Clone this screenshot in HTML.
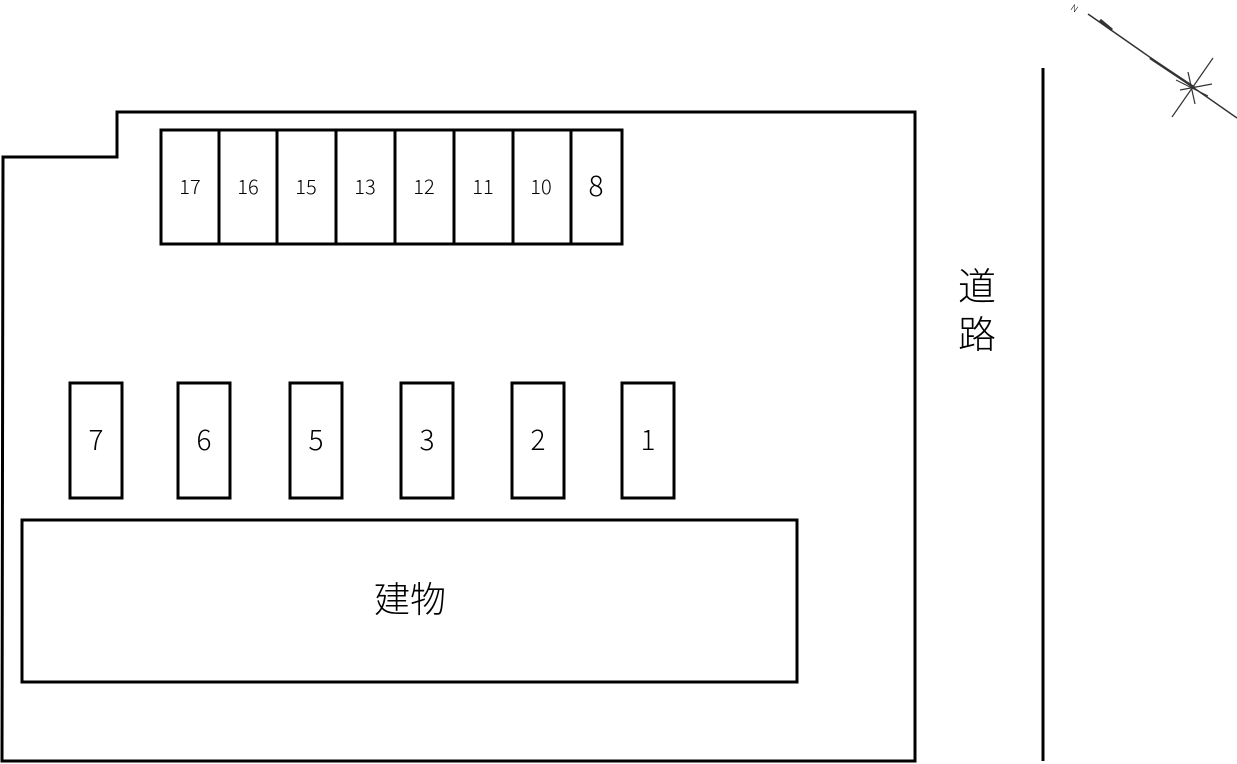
<!DOCTYPE html>
<html><head><meta charset="utf-8"><style>
html,body{margin:0;padding:0;background:#fff;}
svg{display:block}
text{fill:#000;}
.j{font-family:"Noto Sans CJK JP",sans-serif;font-weight:300;}
</style></head><body>
<svg width="1237" height="764" viewBox="0 0 1237 764" xmlns="http://www.w3.org/2000/svg">
<g fill="none" stroke="#000" stroke-width="3">
<path d="M2,761 L3,157 L117,157 L117,112 L915,112 L915,761 Z"/>
<rect x="161" y="130" width="461" height="114"/>
<line x1="219" y1="130" x2="219" y2="244"/>
<line x1="277" y1="130" x2="277" y2="244"/>
<line x1="336" y1="130" x2="336" y2="244"/>
<line x1="395" y1="130" x2="395" y2="244"/>
<line x1="454" y1="130" x2="454" y2="244"/>
<line x1="513" y1="130" x2="513" y2="244"/>
<line x1="571" y1="130" x2="571" y2="244"/>
<rect x="70" y="383" width="52" height="115"/>
<rect x="178" y="383" width="52" height="115"/>
<rect x="290" y="383" width="52" height="115"/>
<rect x="401" y="383" width="52" height="115"/>
<rect x="512" y="383" width="52" height="115"/>
<rect x="622" y="383" width="52" height="115"/>
<rect x="22" y="520" width="775" height="162"/>
<line x1="1043" y1="68" x2="1043" y2="761"/>
</g>
<g font-size="20" text-anchor="middle" class="j">
<text x="190" y="194">17</text><text x="248" y="194">16</text><text x="306" y="194">15</text>
<text x="365" y="194">13</text><text x="424" y="194">12</text><text x="483" y="194">11</text>
<text x="541" y="194">10</text><text x="596" y="196" font-size="28">8</text>
</g>
<g font-size="28" text-anchor="middle" class="j">
<text x="96" y="450">7</text><text x="204" y="450">6</text><text x="316" y="450">5</text>
<text x="427" y="450">3</text><text x="538" y="450">2</text><text x="648" y="450">1</text>
<text x="410" y="612" font-size="36">建物</text>
<text x="977" y="300" font-size="38">道</text>
<text x="977" y="348" font-size="38">路</text>
</g>
<g stroke="#333" fill="none">
<line x1="1088" y1="14" x2="1237" y2="118" stroke-width="1.5"/>
<line x1="1100" y1="20" x2="1112" y2="30" stroke-width="3"/>
<line x1="1150" y1="58" x2="1195" y2="88" stroke-width="2.5"/>
<line x1="1213" y1="58" x2="1172" y2="117" stroke-width="1.2"/>
<line x1="1180" y1="90" x2="1212" y2="84" stroke-width="1.2"/>
<line x1="1188" y1="72" x2="1195" y2="104" stroke-width="1.2"/>
<line x1="1176" y1="80" x2="1208" y2="96" stroke-width="1"/>
</g>
<text x="1071" y="12" font-size="9" class="j" transform="rotate(35 1075 9)">N</text>
</svg>
</body></html>
